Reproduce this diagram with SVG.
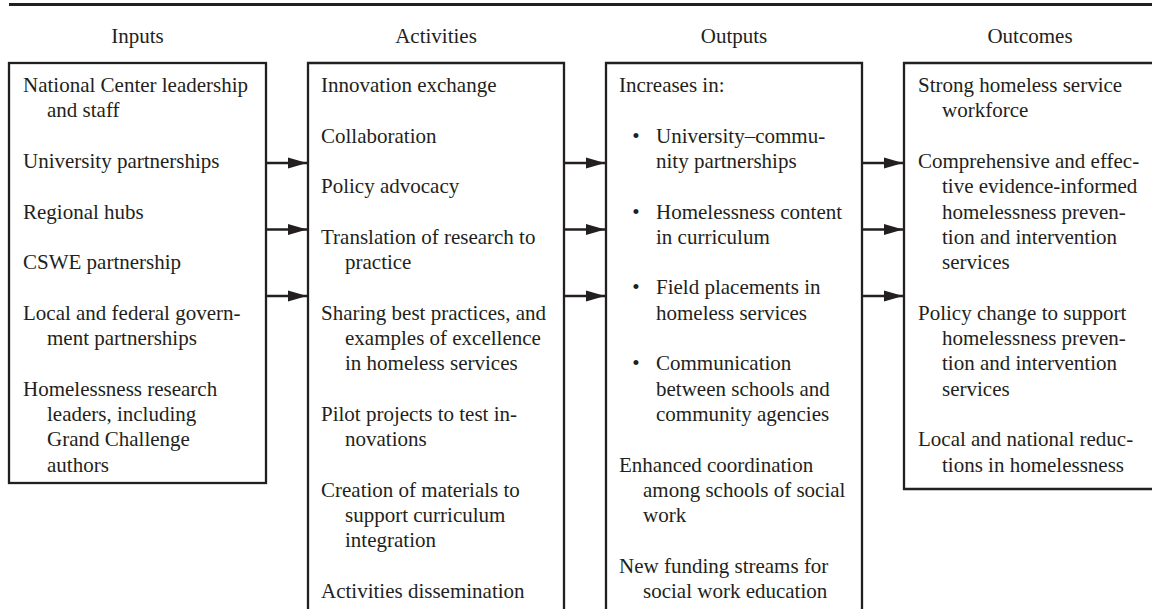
<svg xmlns="http://www.w3.org/2000/svg" width="1152" height="609" viewBox="0 0 1152 609">
<style>
text{font-family:"Liberation Serif","Times New Roman",serif;font-size:21px;fill:#231f20}
.t{text-anchor:middle}
.box{fill:none;stroke:#231f20;stroke-width:2.3}
.arr{fill:none;stroke:#231f20;stroke-width:2.5}
</style>
<defs>
<marker id="ah" markerUnits="userSpaceOnUse" markerWidth="19" markerHeight="12" refX="19" refY="6" orient="auto">
<path d="M0,0.5 L19,6 L0,11.5 z" fill="#231f20"/>
</marker>
</defs>
<rect width="1152" height="609" fill="#fff"/>
<line x1="9" y1="4.5" x2="1152" y2="4.5" stroke="#231f20" stroke-width="3"/>
<g id="titles">
<text class="t" x="137.5" y="43">Inputs</text>
<text class="t" x="436" y="43">Activities</text>
<text class="t" x="734" y="43">Outputs</text>
<text class="t" x="1030" y="43">Outcomes</text>
</g>
<g id="inputs">
<rect class="box" x="9" y="63" width="257" height="420"/>
<text x="23" y="92">National Center leadership</text>
<text x="47" y="117.3">and staff</text>
<text x="23" y="167.9">University partnerships</text>
<text x="23" y="218.5">Regional hubs</text>
<text x="23" y="269.1">CSWE partnership</text>
<text x="23" y="319.7">Local and federal govern-</text>
<text x="47" y="345">ment partnerships</text>
<text x="23" y="395.6">Homelessness research</text>
<text x="47" y="420.9">leaders, including</text>
<text x="47" y="446.2">Grand Challenge</text>
<text x="47" y="471.5">authors</text>
</g>
<g id="activities">
<path class="box" d="M308,615 V63 H564 V615"/>
<text x="321" y="92">Innovation exchange</text>
<text x="321" y="142.6">Collaboration</text>
<text x="321" y="193.2">Policy advocacy</text>
<text x="321" y="243.8">Translation of research to</text>
<text x="345" y="269.1">practice</text>
<text x="321" y="319.7">Sharing best practices, and</text>
<text x="345" y="345">examples of excellence</text>
<text x="345" y="370.3">in homeless services</text>
<text x="321" y="420.9">Pilot projects to test in-</text>
<text x="345" y="446.2">novations</text>
<text x="321" y="496.8">Creation of materials to</text>
<text x="345" y="522.1">support curriculum</text>
<text x="345" y="547.4">integration</text>
<text x="321" y="598">Activities dissemination</text>
</g>
<g id="outputs">
<path class="box" d="M606,615 V63 H862 V615"/>
<text x="619" y="92">Increases in:</text>
<text class="t" x="636" y="142.6">•</text>
<text x="656" y="142.6">University–commu-</text>
<text x="656" y="167.9">nity partnerships</text>
<text class="t" x="636" y="218.5">•</text>
<text x="656" y="218.5">Homelessness content</text>
<text x="656" y="243.8">in curriculum</text>
<text class="t" x="636" y="294.4">•</text>
<text x="656" y="294.4">Field placements in</text>
<text x="656" y="319.7">homeless services</text>
<text class="t" x="636" y="370.3">•</text>
<text x="656" y="370.3">Communication</text>
<text x="656" y="395.6">between schools and</text>
<text x="656" y="420.9">community agencies</text>
<text x="619" y="471.5">Enhanced coordination</text>
<text x="643" y="496.8">among schools of social</text>
<text x="643" y="522.1">work</text>
<text x="619" y="572.7">New funding streams for</text>
<text x="643" y="598">social work education</text>
</g>
<g id="outcomes">
<path class="box" d="M1160,63 H904 V489 H1160"/>
<text x="918" y="92">Strong homeless service</text>
<text x="942" y="117.3">workforce</text>
<text x="918" y="167.9">Comprehensive and effec-</text>
<text x="942" y="193.2">tive evidence-informed</text>
<text x="942" y="218.5">homelessness preven-</text>
<text x="942" y="243.8">tion and intervention</text>
<text x="942" y="269.1">services</text>
<text x="918" y="319.7">Policy change to support</text>
<text x="942" y="345">homelessness preven-</text>
<text x="942" y="370.3">tion and intervention</text>
<text x="942" y="395.6">services</text>
<text x="918" y="446.2">Local and national reduc-</text>
<text x="942" y="471.5">tions in homelessness</text>
</g>
<g id="connectors">
<line class="arr" x1="267" y1="163" x2="307" y2="163" marker-end="url(#ah)"/>
<line class="arr" x1="267" y1="229.5" x2="307" y2="229.5" marker-end="url(#ah)"/>
<line class="arr" x1="267" y1="296" x2="307" y2="296" marker-end="url(#ah)"/>
<line class="arr" x1="565" y1="163" x2="605" y2="163" marker-end="url(#ah)"/>
<line class="arr" x1="565" y1="229.5" x2="605" y2="229.5" marker-end="url(#ah)"/>
<line class="arr" x1="565" y1="296" x2="605" y2="296" marker-end="url(#ah)"/>
<line class="arr" x1="863" y1="163" x2="903" y2="163" marker-end="url(#ah)"/>
<line class="arr" x1="863" y1="229.5" x2="903" y2="229.5" marker-end="url(#ah)"/>
<line class="arr" x1="863" y1="296" x2="903" y2="296" marker-end="url(#ah)"/>
</g>
</svg>
